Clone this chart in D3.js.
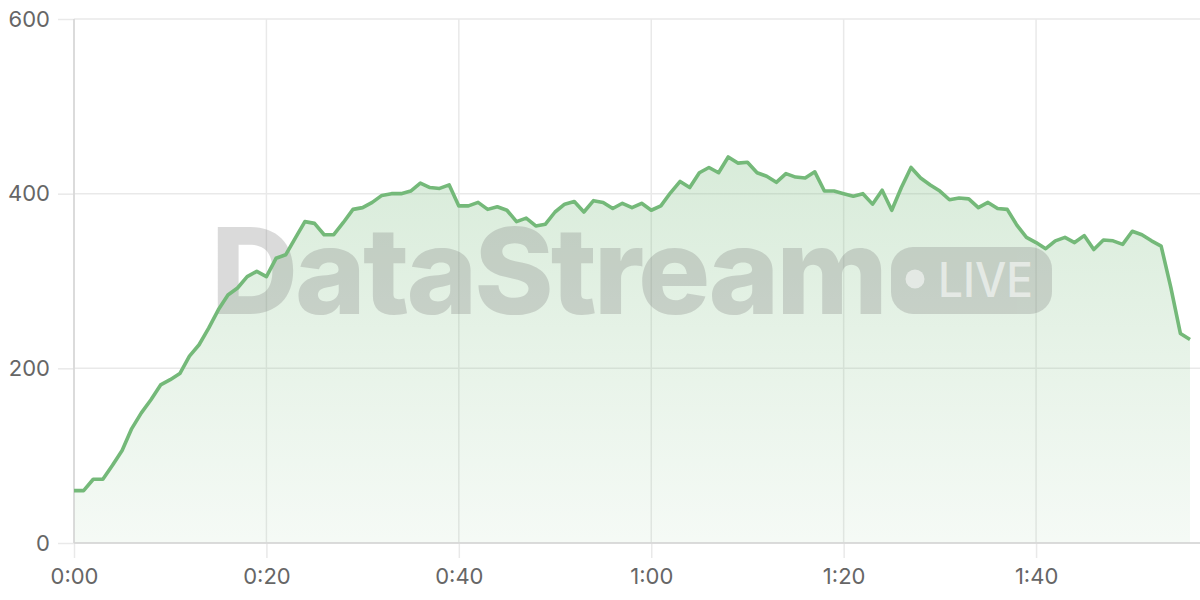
<!DOCTYPE html>
<html>
<head>
<meta charset="utf-8">
<script src="https://cdn.jsdelivr.net/npm/d3@7"></script>
<style>
  html, body { margin: 0; padding: 0; background: #ffffff; }
  svg { display: block; }
</style>
</head>
<body>
<svg id="chart" width="1200" height="600"></svg>
<script>
// ---- data ----
const minutes = [
  0, 1, 2, 3, 4, 5, 6, 7, 8, 9,
  10, 11, 12, 13, 14, 15, 16, 17, 18, 19,
  20, 21, 22, 23, 24, 25, 26, 27, 28, 29,
  30, 31, 32, 33, 34, 35, 36, 37, 38, 39,
  40, 41, 42, 43, 44, 45, 46, 47, 48, 49,
  50, 51, 52, 53, 54, 55, 56, 57, 58, 59,
  60, 61, 62, 63, 64, 65, 66, 67, 68, 69,
  70, 71, 72, 73, 74, 75, 76, 77, 78, 79,
  80, 81, 82, 83, 84, 85, 86, 87, 88, 89,
  90, 91, 92, 93, 94, 95, 96, 97, 98, 99,
  100, 101, 102, 103, 104, 105, 106, 107, 108, 109,
  110, 111, 112, 113, 114, 115, 116
];
const values = [
  60, 60, 73, 73, 89, 106, 131, 149, 164, 181,
  187, 194, 214, 227, 246, 267, 284, 292, 305, 311,
  305, 326, 330, 349, 368, 366, 353, 353, 367, 382,
  384, 390, 398, 400, 400, 403, 412, 407, 406, 410,
  386, 386, 390, 382, 385, 381, 368, 372, 363, 365,
  379, 388, 391, 379, 392, 390, 383, 389, 384, 389,
  381, 386, 401, 414, 407, 424, 430, 424, 442, 435,
  436, 424, 420, 413, 423, 419, 418, 425, 403, 403,
  400, 397, 400, 388, 404, 381, 407, 430, 418, 410,
  403, 393, 395, 394, 384, 390, 383, 382, 364, 350,
  344, 337, 346, 350, 344, 352, 336, 347, 346, 342,
  357, 353, 346, 340, 293, 240, 233
];
const xTicks = [0, 20, 40, 60, 80, 100];
const xTickLabels = ["0:00", "0:20", "0:40", "1:00", "1:20", "1:40"];
const yTicks = [0, 200, 400, 600];
const watermarkTitle = "DataStream";
const watermarkBadge = "LIVE";

(function () {
// ---- layout ----
const svg = d3.select("#chart");
const W = 1200, H = 600;
const mLeft = 74, mRight = 1190, mTop = 19, mBottom = 543;

const data = minutes.map((m, i) => ({ m, v: values[i] }));

const x = d3.scaleLinear().domain([0, 116]).range([mLeft, mRight]);
const y = d3.scaleLinear().domain([0, 600]).range([mBottom, mTop]);

const lineColor = "#74b979";
const fontFam = "Inter, 'Helvetica Neue', Arial, sans-serif";

// gradient
const defs = svg.append("defs");
const grad = defs.append("linearGradient")
  .attr("id", "areaGrad")
  .attr("gradientUnits", "userSpaceOnUse")
  .attr("x1", 0).attr("x2", 0)
  .attr("y1", y(442)).attr("y2", y(0));
grad.append("stop").attr("offset", "0%").attr("stop-color", lineColor).attr("stop-opacity", 0.28);
grad.append("stop").attr("offset", "100%").attr("stop-color", lineColor).attr("stop-opacity", 0.07);

// y axis ticks (extend left of axis)
const yAxisG = svg.append("g")
  .attr("transform", `translate(${mLeft},0)`)
  .call(d3.axisLeft(y).tickValues(yTicks).tickSize(16).tickPadding(8));
yAxisG.select(".domain").remove();
yAxisG.selectAll(".tick line").attr("stroke", "#e9e9e9").attr("stroke-width", 1.5);
yAxisG.selectAll(".tick text")
  .attr("fill", "#666").style("font-size", "22px").style("font-family", fontFam);

// horizontal grid
svg.append("g").selectAll("line").data(yTicks).join("line")
  .attr("x1", mLeft).attr("x2", W)
  .attr("y1", d => y(d)).attr("y2", d => y(d))
  .attr("stroke", "#e9e9e9").attr("stroke-width", 1.5);

// x axis ticks
const xAxisG = svg.append("g")
  .attr("transform", `translate(0,${mBottom})`)
  .call(d3.axisBottom(x).tickValues(xTicks)
    .tickFormat((d, i) => xTickLabels[i])
    .tickSize(15).tickPadding(10));
xAxisG.select(".domain").remove();
xAxisG.selectAll(".tick line").attr("stroke", "#e9e9e9").attr("stroke-width", 1.5);
xAxisG.selectAll(".tick text")
  .attr("fill", "#666").style("font-size", "22px").style("font-family", fontFam);

// vertical grid
svg.append("g").selectAll("line").data(xTicks).join("line")
  .attr("x1", d => x(d)).attr("x2", d => x(d))
  .attr("y1", mTop).attr("y2", mBottom)
  .attr("stroke", "#e9e9e9").attr("stroke-width", 1.5);

// area
const area = d3.area().x(d => x(d.m)).y0(y(0)).y1(d => y(d.v));
svg.append("path").datum(data)
  .attr("d", area)
  .attr("fill", "url(#areaGrad)");

// axis lines
svg.append("line").attr("x1", mLeft).attr("x2", mLeft).attr("y1", mTop).attr("y2", mBottom)
  .attr("stroke", "#d4d4d4").attr("stroke-width", 1.5);
svg.append("line").attr("x1", mLeft).attr("x2", W).attr("y1", mBottom).attr("y2", mBottom)
  .attr("stroke", "#d4d4d4").attr("stroke-width", 1.5);

// watermark
const wm = svg.append("g").attr("opacity", 0.27);
wm.append("text")
  .attr("x", 211).attr("y", 314)
  .attr("textLength", 674).attr("lengthAdjust", "spacingAndGlyphs")
  .style("font-family", fontFam).style("font-weight", 800).style("font-size", "120px")
  .style("letter-spacing", "-3px")
  .attr("fill", "#7a7a7a")
  .text(watermarkTitle);
wm.append("rect")
  .attr("x", 891).attr("y", 247).attr("width", 161).attr("height", 67).attr("rx", 22)
  .attr("fill", "#7a7a7a");
const badge = svg.append("g").attr("opacity", 0.55);
badge.append("circle").attr("cx", 915).attr("cy", 279).attr("r", 9.5).attr("fill", "#ffffff");
badge.append("text")
  .attr("x", 938).attr("y", 297)
  .attr("textLength", 95).attr("lengthAdjust", "spacingAndGlyphs")
  .style("font-family", fontFam).style("font-weight", 500).style("font-size", "48px")
  .attr("fill", "#ffffff")
  .text(watermarkBadge);

// line
const line = d3.line().x(d => x(d.m)).y(d => y(d.v));
svg.append("path").datum(data)
  .attr("d", line)
  .attr("fill", "none")
  .attr("stroke", lineColor)
  .attr("stroke-width", 3.6)
  .attr("stroke-linejoin", "round");
})();
</script>
</body>
</html>
